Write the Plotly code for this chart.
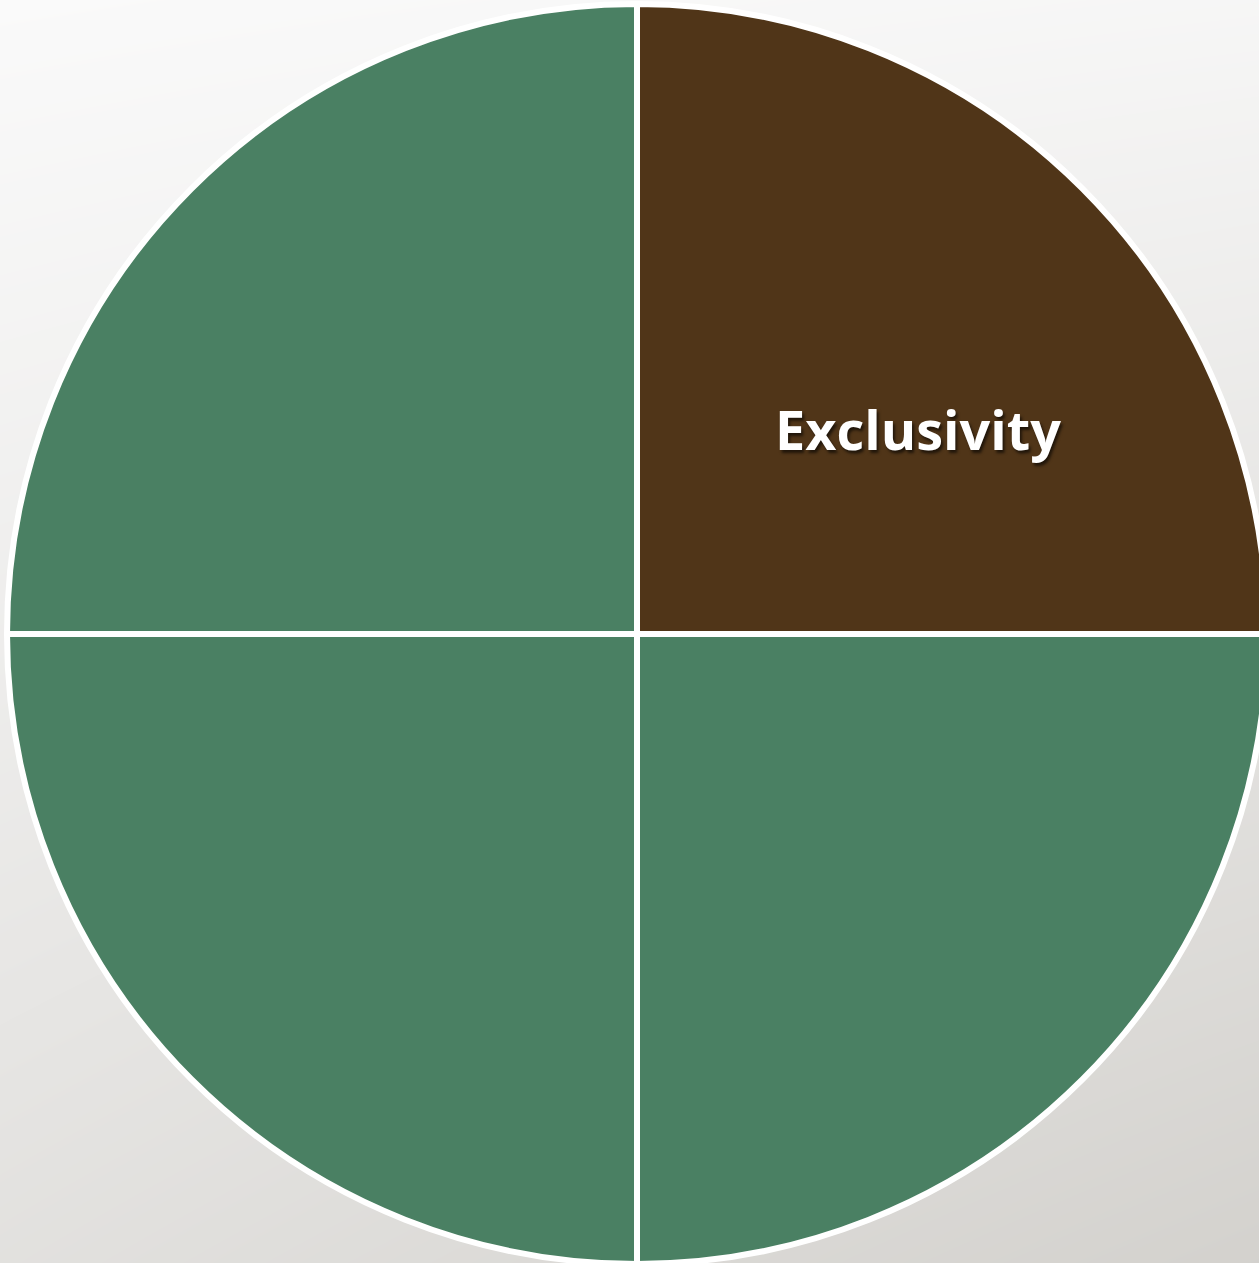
import plotly.graph_objects as go

# ---- data ----
labels = ["Exclusivity", "Segment 2", "Segment 3", "Segment 4"]
values = [25, 25, 25, 25]
shown_labels = ["Exclusivity"]
slice_colors = ["#503518", "#4a8063", "#4a8063", "#4a8063"]

# background gradient corner shades (0 = lightest, 1 = darkest)
bg_z = [[0.62, 1.0],   # bottom-left, bottom-right
        [0.0, 0.10]]   # top-left, top-right
bg_scale = [[0, "#fafafa"], [1, "#d3d1cd"]]

W, H = 1272, 1270          # slightly larger than the window; the pie runs off the right edge
CX, CY, R = 637, 634, 630  # pie centre / radius in pixels

fig = go.Figure()

# background gradient
fig.add_trace(go.Heatmap(
    z=bg_z, x=[0, 1], y=[0, 1], colorscale=bg_scale, zsmooth="best",
    showscale=False, hoverinfo="skip", xaxis="x", yaxis="y",
))

fig.add_trace(go.Pie(
    labels=labels, values=values, sort=False, direction="clockwise", rotation=0,
    marker=dict(colors=slice_colors, line=dict(color="white", width=6)),
    textinfo="none", hoverinfo="label",
    domain=dict(x=[(CX - R) / W, (CX + R) / W], y=[1 - (CY + R) / H, 1 - (CY - R) / H]),
    showlegend=False,
))

fig.add_annotation(
    text=shown_labels[0], x=918 / W, y=1 - 429 / H, xref="paper", yref="paper",
    showarrow=False, xanchor="center", yanchor="middle",
    font=dict(family="Open Sans", size=54, color="white", weight="bold",
              shadow="2px 3px 3px rgba(0,0,0,0.6)"),
)

fig.update_layout(
    width=W, height=H, margin=dict(l=0, r=0, t=0, b=0),
    paper_bgcolor="#f0f0ee", plot_bgcolor="rgba(0,0,0,0)",
    xaxis=dict(range=[0, 1], visible=False, domain=[0, 1], fixedrange=True),
    yaxis=dict(range=[0, 1], visible=False, domain=[0, 1], fixedrange=True),
)

fig.write_html(
    "out.html",
    config={"displayModeBar": False},
    post_script="document.body.style.margin='0';document.body.style.overflow='hidden';"
                "document.documentElement.style.overflow='hidden';",
)
